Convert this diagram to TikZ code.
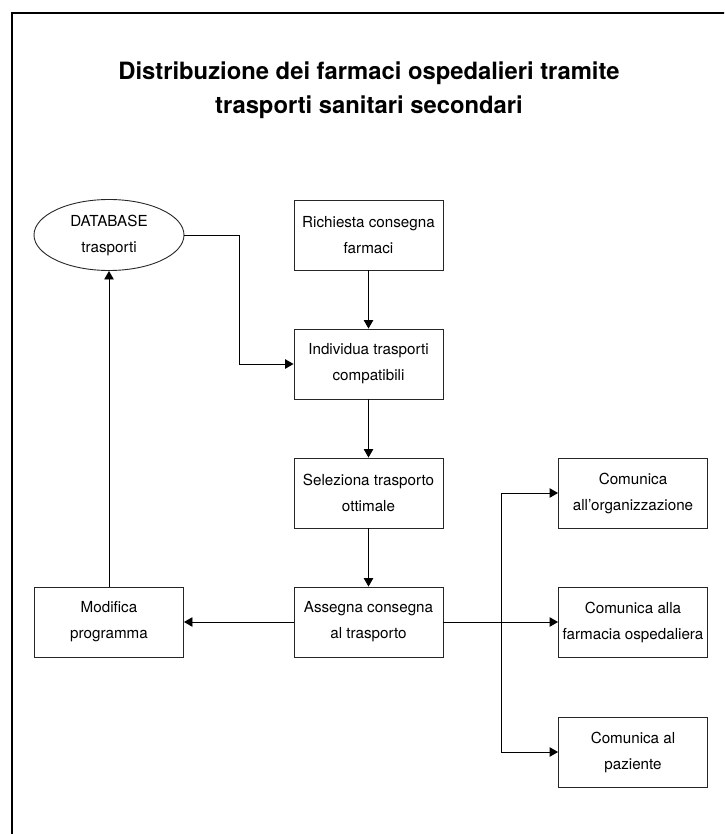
\documentclass[tikz,border=0pt]{standalone}
\usepackage{fontspec}
\setmainfont{TeX Gyre Heros}
\usetikzlibrary{arrows.meta,shapes.geometric}

\tikzset{
  stepbox/.style={draw=black!85, line width=0.9pt, minimum width=149pt, minimum height=70pt,
    align=center, inner sep=0pt, font=\fontsize{15.2}{26}\selectfont},
  dbshape/.style={ellipse, draw=black!85, line width=0.9pt, minimum width=150pt, minimum height=71pt,
    align=center, inner sep=0pt, font=\fontsize{15.2}{26}\selectfont},
  arr/.style={draw=black, line width=0.9pt, -{Triangle[length=8.5pt,width=9.5pt]}},
  titletext/.style={anchor=base, font=\fontsize{23.8}{34}\bfseries\selectfont}
}

\begin{document}
\begin{tikzpicture}[x=1pt,y=-1pt]
  \useasboundingbox (0,0) rectangle (724,834);
  \clip (0,0) rectangle (724,834);

  % outer frame, open to the right and bottom
  \draw[line width=2pt, line cap=rect] (12,840) -- (12,13) -- (730,13);

  % heading
  \node[titletext] (title1) at (369,80) {Distribuzione dei farmaci ospedalieri tramite};
  \node[titletext] (title2) at (369,114) {trasporti sanitari secondari};

  % main chain
  \node[dbshape]  (db)  at (109,235)   {DATABASE\\trasporti};
  \node[stepbox]  (req) at (368.5,235) {Richiesta consegna\\farmaci};
  \node[stepbox]  (ind) at (368.5,364) {Individua trasporti\\compatibili};
  \node[stepbox]  (sel) at (368.5,493) {Seleziona trasporto\\ottimale};
  \node[stepbox]  (ass) at (368.5,622) {Assegna consegna\\al trasporto};
  \node[stepbox]  (mod) at (109,622)   {Modifica\\programma};

  % notifications
  \node[stepbox]  (org) at (633,493) {Comunica\\all'organizzazione};
  \node[stepbox]  (far) at (633,622) {Comunica alla\\farmacia ospedaliera};
  \node[stepbox]  (paz) at (633,752) {Comunica al\\paziente};

  % helper points for the elbow connectors
  \coordinate (dbk) at (239,235);
  \coordinate (br)  at (501,622);

  % connectors
  \draw[arr] (req.south) -- (ind.north);
  \draw[arr] (ind.south) -- (sel.north);
  \draw[arr] (sel.south) -- (ass.north);
  \draw[arr] (ass.west) -- (mod.east);
  \draw[arr] (mod.north) -- (db.south);
  \draw[arr] (db.east) -- (dbk) |- (ind.west);
  \draw[arr] (ass.east) -- (far.west);
  \draw[arr] (br) |- (org.west);
  \draw[arr] (br) |- (paz.west);
\end{tikzpicture}
\end{document}
